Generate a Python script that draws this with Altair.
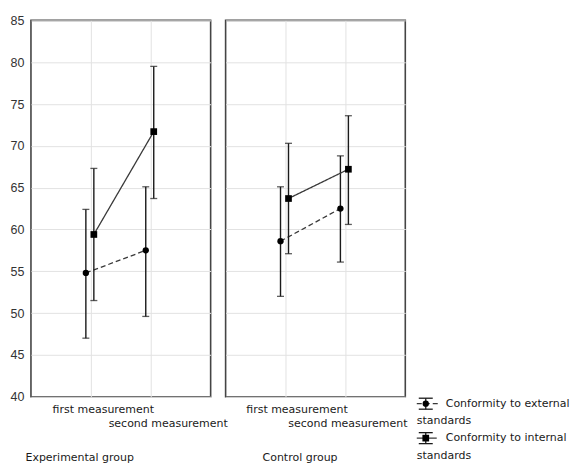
import altair as alt
import pandas as pd

groups = ["Experimental group", "Control group"]
measurements = ["first measurement", "second measurement"]
series = ["Conformity to external standards", "Conformity to internal standards"]

# values per group: [first measurement, second measurement]
ext_mean = {"Experimental group": [54.8, 57.5], "Control group": [58.6, 62.5]}
ext_low = {"Experimental group": [47.0, 49.6], "Control group": [52.0, 56.1]}
ext_high = {"Experimental group": [62.4, 65.1], "Control group": [65.1, 68.8]}
int_mean = {"Experimental group": [59.4, 71.7], "Control group": [63.7, 67.2]}
int_low = {"Experimental group": [51.5, 63.7], "Control group": [57.1, 60.6]}
int_high = {"Experimental group": [67.3, 79.5], "Control group": [70.3, 73.6]}

rows = []
for g in groups:
    for i, m in enumerate(measurements):
        rows.append({"group": g, "measurement": m, "series": series[0],
                     "mean": ext_mean[g][i], "low": ext_low[g][i], "high": ext_high[g][i]})
        rows.append({"group": g, "measurement": m, "series": series[1],
                     "mean": int_mean[g][i], "low": int_low[g][i], "high": int_high[g][i]})
df = pd.DataFrame(rows)

FONT = "DejaVu Sans"
INK = "#1a1a1a"
LINE = "#3a3a3a"

styles = {
    series[0]: {"off": -5, "shape": "circle", "size": 40, "dash": [5, 3]},
    series[1]: {"off": 3, "shape": "square", "size": 45, "dash": [1, 0]},
}


def panel(group, title_x, first_off, second_off, show_y, legend_layers=None):
    x_axis = alt.Axis(
        title=group, titleFont=FONT, titleFontSize=11, titleFontWeight="normal",
        titleColor=INK, titleAnchor="start", titleAlign="left", titleX=title_x,
        titleY=61, titleBaseline="middle",
        labelFont=FONT, labelFontSize=11, labelColor=INK, labelAngle=0,
        labelBaseline="top", labelPadding=7, labelLineHeight=14,
        labelExpr="datum.value == 'second measurement' ? ['', datum.label] : datum.label",
        labelOffset={"condition": {"test": "datum.value == 'first measurement'", "value": first_off},
                     "value": second_off},
        tickSize=0, domain=False, grid=True, gridColor="#e2e2e2", gridWidth=1,
    )
    y_axis = alt.Axis(
        title=None, values=[40, 45, 50, 55, 60, 65, 70, 75, 80, 85],
        labels=show_y, labelFont="Liberation Sans", labelFontSize=12.5, labelColor="#333",
        labelPadding=7, tickSize=0, domain=False, grid=True, gridColor="#e2e2e2", gridWidth=1,
    )
    x = alt.X("measurement:N", sort=measurements,
              scale=alt.Scale(type="point", padding=1, domain=measurements), axis=x_axis)
    yscale = alt.Scale(domain=[40, 85], nice=False, zero=False)

    base = alt.Chart(df).transform_filter(alt.datum.group == group)
    layers = []
    for s in series:
        st = styles[s]
        sub = base.transform_filter(alt.datum.series == s)
        layers.append(sub.mark_line(xOffset=st["off"], color=LINE, strokeWidth=1.3,
                                    strokeDash=st["dash"]).encode(
            x=x, y=alt.Y("mean:Q", scale=yscale, axis=y_axis)))
        layers.append(sub.mark_rule(xOffset=st["off"], color=INK, strokeWidth=1.4).encode(
            x=x, y=alt.Y("low:Q", scale=yscale, axis=y_axis), y2="high:Q"))
        for f in ["low", "high"]:
            layers.append(sub.mark_tick(xOffset=st["off"], color=INK, orient="horizontal",
                                        size=7, thickness=1.3).encode(
                x=x, y=alt.Y(f + ":Q", scale=yscale, axis=y_axis)))
        layers.append(sub.mark_point(xOffset=st["off"], shape=st["shape"], filled=True,
                                     size=st["size"], color="#000", opacity=1).encode(
            x=x, y=alt.Y("mean:Q", scale=yscale, axis=y_axis)))
    if legend_layers:
        layers.extend(legend_layers)
    return alt.layer(*layers).properties(width=180, height=377)


def legend_entry(s, cx, cy, line1, line2):
    st = styles[s]
    d = alt.Chart(pd.DataFrame({"series": [s]}))
    out = [
        d.mark_rule(color=INK, strokeWidth=1.3).encode(
            x=alt.value(cx), y=alt.value(cy - 5.5), y2=alt.value(cy + 5.5)),
        d.mark_rule(color=INK, strokeWidth=1.3).encode(
            x=alt.value(cx - 7), x2=alt.value(cx + 7), y=alt.value(cy - 5.5)),
        d.mark_rule(color=INK, strokeWidth=1.3).encode(
            x=alt.value(cx - 7), x2=alt.value(cx + 7), y=alt.value(cy + 5.5)),
        d.mark_rule(color=LINE, strokeWidth=1.3, strokeDash=st["dash"]).encode(
            x=alt.value(cx - 9), x2=alt.value(cx + 15 if s == series[0] else cx + 11),
            y=alt.value(cy)),
        d.mark_point(shape=st["shape"], filled=True, size=st["size"], color="#000",
                     opacity=1).encode(x=alt.value(cx), y=alt.value(cy)),
        d.mark_text(align="left", baseline="middle", font=FONT, fontSize=11, color=INK).encode(
            x=alt.value(cx + 20), y=alt.value(cy), text=alt.value(line1)),
        d.mark_text(align="left", baseline="middle", font=FONT, fontSize=11, color=INK).encode(
            x=alt.value(cx - 9), y=alt.value(cy + 17.5), text=alt.value(line2)),
    ]
    return out


legend_layers = (legend_entry(series[0], 200.5, 384, "Conformity to external", "standards")
                 + legend_entry(series[1], 200.5, 418.5, "Conformity to internal", "standards"))

left = panel("Experimental group", -6, 12, 17, True)
right = panel("Control group", 36.5, 11, 2, False, legend_layers)

chart = alt.hconcat(left, right, spacing=15, bounds="flush").properties(
    padding={"left": 1, "top": 5, "right": 0, "bottom": 0}
).configure_view(stroke="#454545", strokeWidth=1.6)

chart.save("out.html", embed_options={"renderer": "svg", "actions": False})
